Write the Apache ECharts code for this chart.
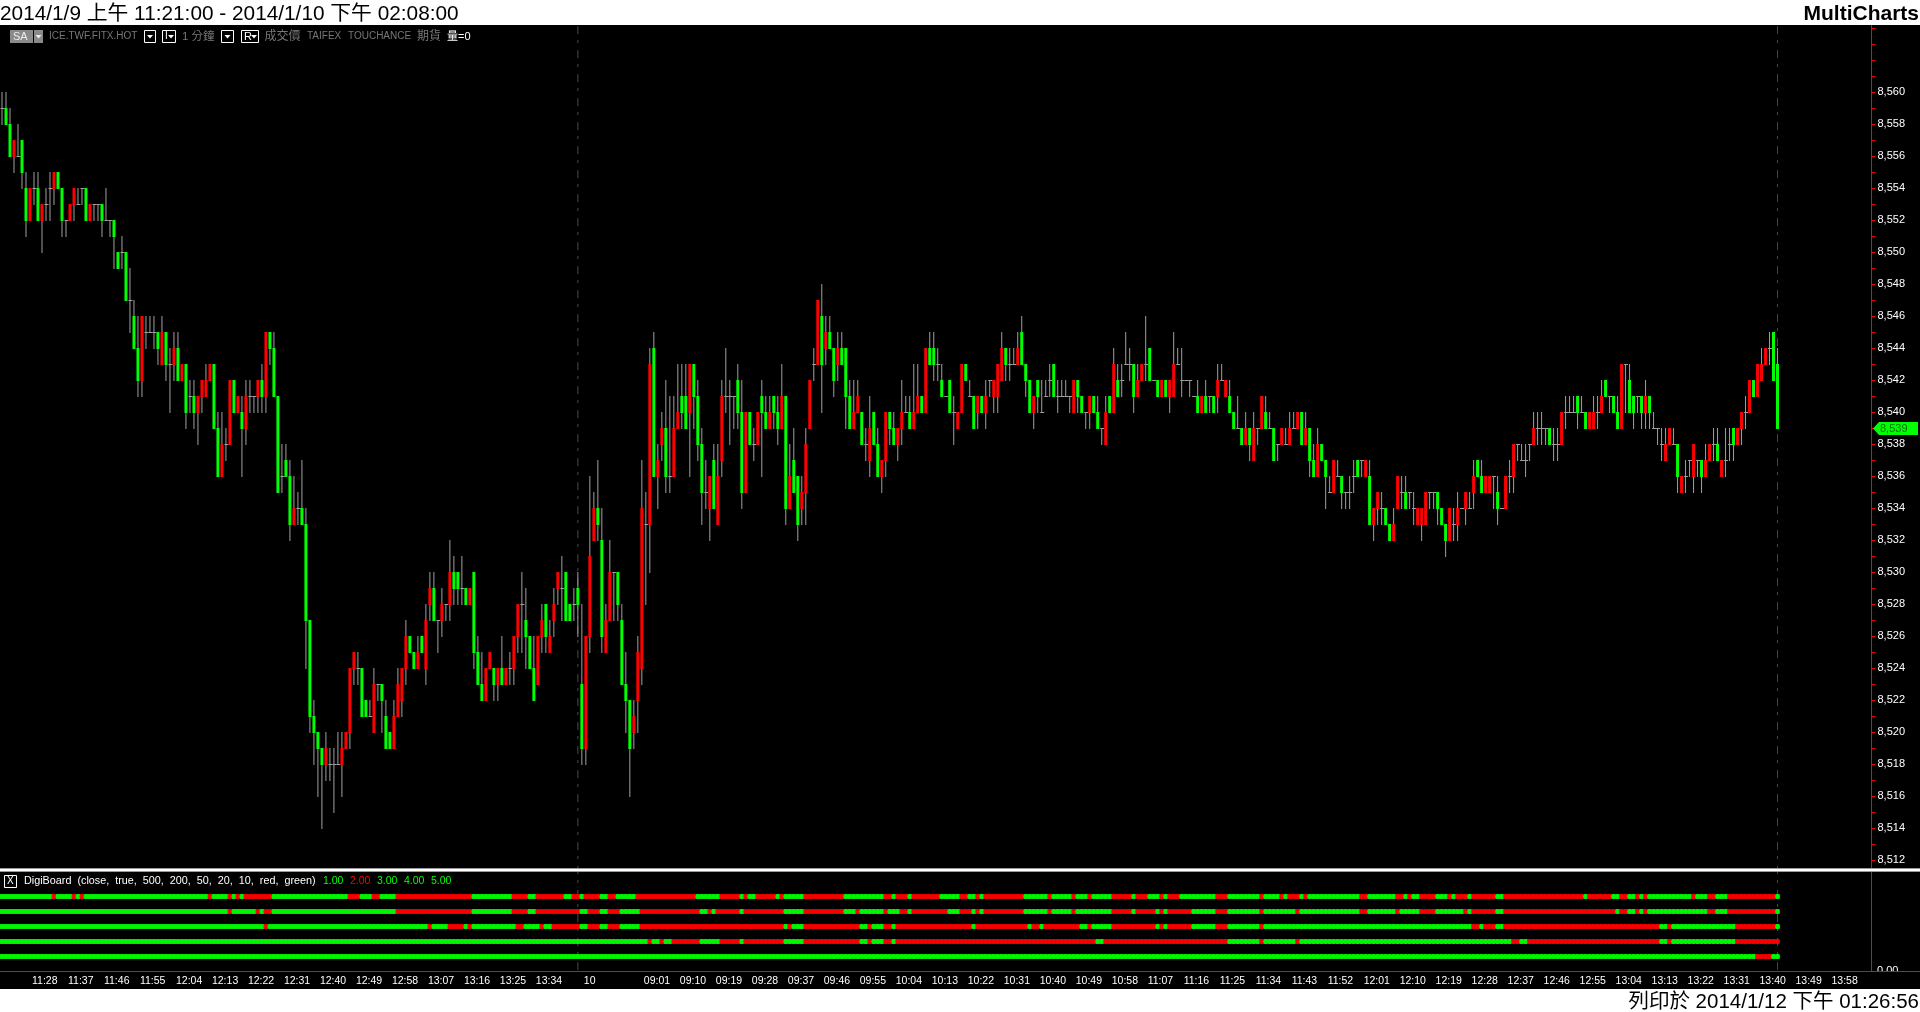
<!DOCTYPE html>
<html><head><meta charset="utf-8">
<style>html,body{margin:0;padding:0;background:#000;overflow:hidden}#c{width:1920px;height:1012px}</style>
<script src="https://cdn.jsdelivr.net/npm/echarts@6/dist/echarts.min.js"></script>
</head><body><div id="c"></div>
<script>
// Prices are stored relative to this base
const priceBase = 8500;
const opens = [
59,59,58,56,56,57,54,52,54,54, 52,53,54,54,55,54,52,52,53,53, 54,54,52,53,53,53,52,52,52,50, 50,50,47,46,44,42,45,45,45,45,
43,45,43,43,44,42,43,41,41,40, 41,41,42,43,39,36,38,38,42,40, 40,39,41,41,41,42,41,45,44,41, 36,37,36,33,34,34,33,27,21,20,
19,18,18,18,18,18,19,20,24,24, 24,22,21,20,23,23,21,20,19,21, 22,24,26,25,24,26,24,28,29,27, 27,28,28,30,30,29,29,28,30,25,
23,22,24,24,23,24,23,24,24,26, 28,27,26,24,23,26,28,25,27,29, 29,30,28,28,29,23,19,26,32,34, 32,25,27,30,30,27,23,22,20,22,
24,33,33,44,36,38,39,36,36,39, 41,41,40,43,41,38,35,34,37,33, 37,41,41,41,42,40,35,40,38,38, 41,40,39,41,40,39,41,34,37,36,
34,35,39,43,43,46,44,45,44,43, 44,44,41,39,40,40,38,37,40,38, 36,37,40,39,38,39,40,40,39,40, 41,40,44,44,43,42,41,42,40,39,
40,43,41,41,40,41,40,42,41,41, 42,44,43,43,43,45,43,42,40,42, 40,41,42,43,41,41,41,41,40,42, 41,40,40,41,40,39,38,41,40,42,
42,43,43,43,41,42,43,44,42,42, 41,42,41,41,43,42,42,42,41,41, 40,41,41,41,41,42,41,41,40,39, 39,38,39,37,39,39,40,39,39,38,
38,38,38,39,39,40,38,39,37,36, 38,37,35,35,36,36,35,35,36,37, 37,36,36,33,34,34,34,33,32,34, 35,35,35,34,33,33,33,35,35,35,
34,33,32,33,33,34,34,34,35,37, 36,35,35,36,35,34,34,36,36,38, 37,37,38,38,39,39,39,39,38,38, 38,40,40,40,41,40,40,39,39,40,
40,42,41,41,40,39,43,42,41,41, 41,40,41,39,39,38,37,38,38,38, 35,36,37,36,37,37,36,37,38,38, 36,37,38,39,38,39,40,40,42,41,
42,43,44,45,43];
const closes = [
59,58,56,57,56,55,52,54,54,52, 53,53,54,55,54,52,52,53,54,53, 54,52,53,53,53,52,52,52,51,49, 50,47,47,44,42,46,45,45,45,44,
45,43,43,44,42,43,40,41,40,41, 42,42,43,39,36,38,38,42,40,41, 39,41,41,41,42,41,45,44,41,35, 36,36,33,34,34,33,27,21,20,19,
18,19,18,18,18,19,20,24,25,24, 21,21,21,23,23,22,19,19,21,23, 24,26,25,24,25,25,27,29,27,27, 28,28,30,29,29,29,28,29,25,23,
22,24,25,23,24,23,24,24,26,28, 28,26,24,22,26,27,26,26,28,30, 29,27,27,28,28,19,26,31,34,33, 26,27,30,30,28,23,22,19,21,25,
34,33,43,36,37,39,36,36,39,40, 40,39,43,41,38,35,35,36,34,36, 41,41,41,41,40,35,40,38,38,40, 40,39,40,40,39,41,34,36,35,33,
35,38,42,43,47,43,45,44,42,44, 43,41,39,40,41,38,38,39,38,36, 37,40,39,38,39,40,40,39,40,41, 40,44,43,43,43,41,41,40,40,40,
43,42,41,39,41,40,41,42,42,43, 44,43,43,43,44,43,42,40,41,41, 40,41,42,41,41,41,41,41,42,41, 40,40,41,40,39,39,40,40,43,41,
42,43,43,41,42,43,43,42,42,41, 42,41,42,43,43,42,42,42,41,40, 41,40,41,40,42,42,42,40,39,39, 38,39,38,39,39,41,39,39,37,38,
39,38,39,39,40,38,39,37,36,38, 37,36,35,37,36,35,35,35,36,36, 37,37,33,34,35,34,33,32,33,36, 35,34,35,34,34,34,35,35,35,34,
33,32,34,33,34,34,35,34,36,36, 35,36,36,36,34,34,36,36,38,38, 37,37,38,39,39,39,39,38,38,38, 40,40,40,40,40,40,39,40,40,40,
41,41,41,40,39,43,43,40,40,41, 40,41,40,39,39,38,38,39,38,36, 36,36,37,38,37,36,37,38,38,37, 37,37,38,38,39,40,40,42,41,43,
43,44,44,42,39];
const highs = [
60,60,59,57,58,57,55,54,55,55, 53,54,55,55,55,54,52,53,54,54, 54,54,53,53,53,53,54,52,52,50, 51,50,49,47,46,46,46,46,46,45,
46,45,44,45,45,43,43,42,42,41, 42,43,43,43,40,40,39,42,42,41, 41,42,42,41,42,43,45,45,45,41, 38,38,37,36,35,37,34,27,22,20,
19,20,19,19,20,20,20,24,25,25, 24,22,22,24,23,23,22,20,22,24, 24,27,26,25,26,26,28,30,30,27, 29,28,32,31,30,31,29,29,30,26,
25,24,25,24,24,26,24,25,26,28, 30,29,26,26,26,28,28,27,29,30, 31,30,28,29,30,28,26,36,35,37, 34,28,32,30,30,28,25,22,22,26,
37,35,44,45,38,40,42,41,41,43, 43,43,43,43,42,39,37,36,38,38, 42,44,42,41,43,42,40,40,39,40, 42,41,41,41,41,43,41,38,39,36,
36,39,42,44,47,48,46,46,44,45, 45,44,42,42,42,40,39,41,40,39, 37,40,40,40,39,42,41,41,43,43, 41,44,45,45,44,43,41,42,41,40,
43,43,42,41,41,41,42,42,42,43, 45,44,44,44,45,46,43,42,41,42, 42,42,43,43,42,42,42,41,42,42, 41,40,41,41,41,39,41,41,44,43,
43,45,44,43,43,43,46,44,42,42, 42,42,42,45,44,44,42,42,41,42, 41,42,41,41,43,43,42,42,40,41, 39,40,39,40,39,41,41,40,39,38,
39,39,40,40,40,40,40,39,38,39, 38,37,36,37,37,36,35,36,37,37, 37,37,37,34,35,35,34,33,34,36, 36,36,35,35,34,34,35,35,35,35,
34,33,34,34,35,34,35,35,37,37, 37,36,36,36,36,34,36,37,38,38, 38,38,38,40,40,40,39,39,39,39, 40,41,41,41,41,41,40,40,41,41,
42,42,41,41,41,43,43,43,41,41, 41,42,41,40,39,39,39,39,39,38, 36,37,37,38,37,37,38,38,39,39, 37,39,39,39,39,40,41,42,42,43,
44,44,45,45,44];
const lows = [
58,58,56,55,56,54,51,52,53,52, 50,52,52,53,54,51,51,52,52,53, 53,52,52,52,52,51,52,51,49,49, 49,47,45,44,41,41,44,45,44,43,
43,42,40,42,42,42,39,40,39,38, 40,41,42,39,36,36,37,38,40,40, 36,38,40,40,40,40,40,43,41,35, 35,36,32,33,33,33,24,20,18,16,
14,17,17,15,18,16,19,19,23,23, 21,21,21,20,22,20,19,19,19,21, 21,23,25,24,24,25,23,27,27,25, 26,27,27,28,28,28,28,28,24,23,
22,22,24,22,22,23,23,23,23,25, 25,24,24,22,23,25,25,25,26,28, 27,27,27,27,26,18,18,25,32,32, 25,25,27,27,27,23,20,16,19,20,
23,28,30,36,34,37,35,35,36,39, 39,39,36,39,37,33,34,32,34,33, 36,40,38,39,39,34,35,38,37,38, 36,39,39,39,38,39,33,34,35,32,
33,33,39,42,43,40,43,44,41,42, 43,39,39,39,40,38,37,36,38,36, 35,36,38,38,37,38,40,39,39,40, 40,40,43,42,42,41,41,40,38,39,
40,42,41,39,39,40,39,41,40,40, 42,42,42,43,43,43,41,40,39,40, 40,41,41,41,40,41,41,40,40,40, 40,39,39,40,39,38,38,40,40,41,
41,43,42,40,41,42,42,42,42,41, 41,41,40,41,43,41,42,41,41,40, 40,40,40,40,40,42,41,40,39,39, 38,38,37,37,38,39,39,39,37,37,
38,38,38,39,39,38,38,36,36,36, 37,34,35,35,36,34,34,34,35,36, 36,36,33,32,33,33,33,32,32,34, 34,34,34,33,33,32,33,34,34,33,
33,31,32,32,32,34,33,34,34,36, 35,35,35,34,33,34,34,35,35,37, 37,36,37,38,38,38,38,38,37,37, 38,39,40,40,39,40,39,39,39,39,
40,41,40,40,39,39,40,40,39,40, 39,39,39,39,38,37,37,38,38,35, 35,35,36,35,36,35,36,37,37,37, 36,36,37,37,38,38,39,40,41,41,
42,43,43,42,39];

// x axis: 468 one-minute slots
const sessionOneStart = '11:21', sessionTwoStart = '08:46', sessionOneBars = 145, slotCount = 468;
const dateBreakLabel = '10';
const unlabelledTicks = [142, 151, 466];
const labelledTicks = [7,16,25,34,43,52,61,70,79,88,97,106,115,124,133,145,160,169,178,187,196,205,214,223,232,241,250,259,268,277,286,295,304,313,322,331,340,349,358,367,376,385,394,403,412,421,430,439,448,457];
const sessionLineBars = [144, 444];
const priceTicks = {min: 8512, max: 8564, topLabel: 8560};

// DigiBoard: inclusive bar ranges where each row is red; green otherwise
const digiRow1Red = [[13,13],[18,18],[20,20],[52,52],[57,57],[59,59],[61,67],[87,89],[93,94],[99,117],[128,131],[134,140],[143,144],[146,149],[152,153],[159,173],[180,184],[186,186],[189,193],[195,195],[201,210],[221,222],[224,226],[228,234],[240,241],[244,244],[246,255],[262,262],[268,268],[272,272],[278,282],[284,286],[290,290],[292,294],[304,306],[315,315],[320,320],[322,324],[326,326],[340,341],[349,350],[352,352],[355,358],[362,362],[364,366],[368,373],[376,395],[397,402],[405,406],[409,409],[411,411],[423,423],[427,428],[432,443]];
const digiRow2Red = [[57,57],[64,64],[66,67],[99,117],[128,131],[134,144],[147,149],[152,154],[160,174],[177,177],[179,184],[186,195],[201,210],[214,214],[221,221],[225,226],[228,236],[240,242],[244,244],[246,255],[262,262],[268,268],[278,282],[284,288],[290,290],[292,297],[304,306],[315,315],[324,324],[340,341],[349,349],[355,358],[366,366],[368,373],[376,403],[405,406],[409,409],[411,411],[427,428],[432,443]];
const digiRow3Red = [[66,66],[107,107],[112,115],[117,117],[129,130],[135,135],[138,144],[147,149],[152,154],[160,195],[197,197],[201,214],[217,217],[221,222],[224,242],[244,256],[258,259],[261,269],[272,272],[278,288],[290,290],[292,297],[304,306],[315,315],[368,369],[371,373],[376,414],[417,417],[434,443]];
const digiRow4Red = [[162,162],[165,165],[168,174],[180,184],[186,195],[201,214],[217,217],[221,222],[224,273],[276,306],[315,315],[324,324],[378,379],[382,414],[417,417],[434,444]];
const digiRow5Red = [[439,442]];
const digiRows = [digiRow1Red, digiRow2Red, digiRow3Red, digiRow4Red, digiRow5Red];

const lastPrice = priceBase + closes[closes.length - 1];
const FONT = '"Liberation Sans","Noto Sans CJK TC",sans-serif';
const GREEN = '#00ff00', RED = '#ff0000', WICK = '#a0a0a0';

[opens, closes, highs, lows].forEach(a => { if (a.length !== 445) throw new Error('bad length ' + a.length); });

function minutesToText(m) { return String(Math.floor(m / 60)).padStart(2, '0') + ':' + String(m % 60).padStart(2, '0'); }
function textToMinutes(t) { const p = t.split(':'); return +p[0] * 60 + +p[1]; }
const categories = [];
for (let i = 0; i < slotCount; i++) {
  categories.push(i < sessionOneBars ? minutesToText(textToMinutes(sessionOneStart) + i)
    : minutesToText(textToMinutes(sessionTwoStart) + i - sessionOneBars));
}
const barRows = opens.map((o, i) => [i, priceBase + o, priceBase + closes[i], priceBase + highs[i], priceBase + lows[i]]);
const labelSet = new Set(labelledTicks), tickSet = new Set(labelledTicks.concat(unlabelledTicks));

function renderBar(params, api) {
  const i = api.value(0), o = api.value(1), c = api.value(2), h = api.value(3), l = api.value(4);
  const x = api.coord([i, o])[0];
  const yO = api.coord([i, o])[1], yC = api.coord([i, c])[1], yH = api.coord([i, h])[1], yL = api.coord([i, l])[1];
  const children = [{type: 'rect', shape: {x: x - 0.5, y: yH, width: 1, height: yL - yH + 1}, style: {fill: WICK}}];
  if (o === c) {
    children.push({type: 'rect', shape: {x: x - 1.5, y: yO, width: 4, height: 1}, style: {fill: WICK}});
  } else {
    const top = Math.min(yO, yC), h2 = Math.abs(yO - yC) + 1;
    children.push({type: 'rect', shape: {x: x - 1.5, y: top, width: 3, height: h2}, style: {fill: c > o ? RED : GREEN}});
  }
  return {type: 'group', children};
}

const digiSeries = [];
digiRows.forEach((ranges, r) => {
  const state = new Array(opens.length).fill(false);
  ranges.forEach(([a, b]) => { for (let k = a; k <= b; k++) state[k] = true; });
  const points = state.map((red, i) => ({value: [i, r + 1], itemStyle: {color: red ? RED : GREEN}}));
  // solid band underneath, round dots on top
  digiSeries.push({type: 'scatter', xAxisIndex: 1, yAxisIndex: 1, symbol: 'rect', symbolSize: [4, 5], silent: true, z: 3, data: points});
  digiSeries.push({type: 'scatter', xAxisIndex: 1, yAxisIndex: 1, symbol: 'circle', symbolSize: 5, silent: true, z: 4, data: points});
});

function txt(text, x, y, fill, size, extra) {
  return {type: 'text', z: 80, silent: true, style: Object.assign({
    text, x, y, fill, font: (size || 10) + 'px ' + FONT, textVerticalAlign: 'middle', textAlign: 'left'
  }, extra || {})};
}
function box(x, y, w, h, stroke, fill) {
  return {type: 'rect', z: 79, silent: true, shape: {x: x + 0.5, y: y + 0.5, width: w - 1, height: h - 1},
    style: {stroke: stroke, fill: fill || 'transparent', lineWidth: 1}};
}
function rect(x, y, w, h, fill, z) {
  return {type: 'rect', z: z, silent: true, shape: {x, y, width: w, height: h}, style: {fill}};
}
function arrow(cx, cy, fill) {
  return {type: 'polygon', z: 81, silent: true, shape: {points: [[cx - 3, cy - 1.5], [cx + 3, cy - 1.5], [cx, cy + 2]]}, style: {fill}};
}

const graphics = [
  rect(0, 0, 1920, 25, '#ffffff', 78),
  rect(0, 989, 1920, 23, '#ffffff', 78),
  txt('2014/1/9 上午 11:21:00 - 2014/1/10 下午 02:08:00', 0, 14, '#000', 20.8),
  txt('MultiCharts', 1919, 14, '#000', 21, {textAlign: 'right', font: 'bold 21px ' + FONT}),
  txt('列印於 2014/1/12 下午 01:26:56', 1919, 1002.5, '#000', 20.5, {textAlign: 'right'}),
  // chart header
  rect(10, 30, 23, 13, '#8a8a8a', 79), rect(34, 30, 9, 13, '#8a8a8a', 79),
  txt('SA', 13, 36.5, '#eeeeee', 11), arrow(38.5, 36.5, '#eee'),
  txt('ICE.TWF.FITX.HOT', 49, 36.5, '#777777', 10),
  box(144, 30, 12, 13, '#ffffff'), arrow(150, 36.5, '#fff'),
  box(162, 30, 14, 13, '#ffffff'), txt('I', 165, 36.5, '#fff', 10), arrow(171, 36.5, '#fff'),
  txt('1 分鐘', 182, 36.5, '#777777', 11.5),
  box(221, 30, 13, 13, '#ffffff'), arrow(227.5, 36.5, '#fff'),
  box(241, 30, 18, 13, '#ffffff'), txt('R', 244, 36.5, '#fff', 11), arrow(254, 36.5, '#fff'),
  txt('成交價', 264.5, 36.5, '#777777', 12),
  txt('TAIFEX', 307, 36.5, '#777777', 10),
  txt('TOUCHANCE', 348, 36.5, '#777777', 10),
  txt('期貨', 417, 36.5, '#777777', 12),
  txt('量=0', 447, 36.5, '#ffffff', 11),
  // separator and axis rails
  rect(1871, 25, 1, 947, RED, 60),
  rect(0, 971, 1920, 1, RED, 60),
  rect(1872, 972, 48, 17, '#000', 55),
  Object.assign(txt('0.00', 1877, 971, '#ffffff', 11), {z: 50}),
  rect(0, 868, 1920, 4, '#9a9a9a', 70),
  rect(0, 869, 1920, 2, '#ffffff', 71),
  // indicator legend
  box(4, 875, 13, 13, '#ffffff'), txt('X', 7, 881.5, '#ffffff', 10),
  txt('DigiBoard  (close,  true,  500,  200,  50,  20,  10,  red,  green)', 24, 881.5, '#ffffff', 10.8),
  txt('1.00', 323, 881.5, GREEN, 10.5), txt('2.00', 350, 881.5, RED, 10.5),
  txt('3.00', 377, 881.5, GREEN, 10.5), txt('4.00', 404, 881.5, GREEN, 10.5), txt('5.00', 431, 881.5, GREEN, 10.5)
];

const chart = echarts.init(document.getElementById('c'), null, {renderer: 'canvas'});
chart.setOption({
  backgroundColor: '#000',
  animation: false,
  tooltip: {show: false},
  grid: [
    {left: -0.5, width: 1872, top: 28, height: 832, containLabel: false},
    {left: -0.5, width: 1872, top: 881.5, height: 90, containLabel: false}
  ],
  xAxis: [
    {type: 'category', gridIndex: 0, data: categories, show: false},
    {type: 'category', gridIndex: 1, data: categories,
      axisLine: {show: false},
      axisTick: {alignWithLabel: true, length: 3, interval: i => tickSet.has(i), lineStyle: {color: RED}},
      axisLabel: {interval: i => labelSet.has(i), align: 'left', margin: 4, padding: [0, 0, 0, 2], color: '#ffffff',
        fontFamily: FONT, fontSize: 10.5, hideOverlap: false,
        formatter: (v, i) => i === labelledTicks[15] ? dateBreakLabel : v}}
  ],
  yAxis: [
    {type: 'value', gridIndex: 0, position: 'right', min: priceTicks.min, max: priceTicks.max, interval: 1,
      axisLine: {show: false}, splitLine: {show: false},
      axisTick: {show: true, length: 4, lineStyle: {color: RED}},
      axisLabel: {margin: 5, padding: [2, 0, 0, 1], color: '#ffffff', fontFamily: FONT, fontSize: 11, showMinLabel: true, showMaxLabel: true,
        formatter: v => v % 2 === 0 && v <= priceTicks.topLabel ? echarts.format.addCommas(v) : ''}},
    {type: 'value', gridIndex: 1, min: 0, max: 6, inverse: true, show: false}
  ],
  graphic: graphics,
  series: [
    {type: 'custom', name: 'sessions', xAxisIndex: 0, yAxisIndex: 0, z: 1, silent: true, clip: false,
      data: sessionLineBars.map(i => [i]),
      encode: {x: 0},
      renderItem: (p, api) => {
        const x = api.coord([api.value(0), priceTicks.min])[0];
        return {type: 'line', shape: {x1: x, y1: 26, x2: x, y2: 971},
          style: {stroke: '#484848', lineWidth: 1, lineDash: [8, 6, 3, 7]}};
      }},
    {type: 'custom', name: 'bars', xAxisIndex: 0, yAxisIndex: 0, z: 2, silent: true, clip: false,
      data: barRows, encode: {x: 0, y: [1, 2, 3, 4]}, renderItem: renderBar},
    ...digiSeries,
    {type: 'custom', name: 'lastTag', xAxisIndex: 0, yAxisIndex: 0, z: 90, silent: true, clip: false,
      data: [[444, lastPrice]], encode: {x: 0, y: 1},
      renderItem: (p, api) => {
        const y = api.coord([api.value(0), api.value(1)])[1] + 0.5;
        return {type: 'group', children: [
          {type: 'polygon', shape: {points: [[1873, y], [1879, y - 6.5], [1918, y - 6.5], [1918, y + 6.5], [1879, y + 6.5]]}, style: {fill: GREEN}},
          {type: 'text', style: {text: echarts.format.addCommas(api.value(1)), x: 1880, y: y, fill: '#007000',
            font: '11px ' + FONT, textVerticalAlign: 'middle', textAlign: 'left'}}
        ]};
      }}
  ]
});
</script></body></html>
